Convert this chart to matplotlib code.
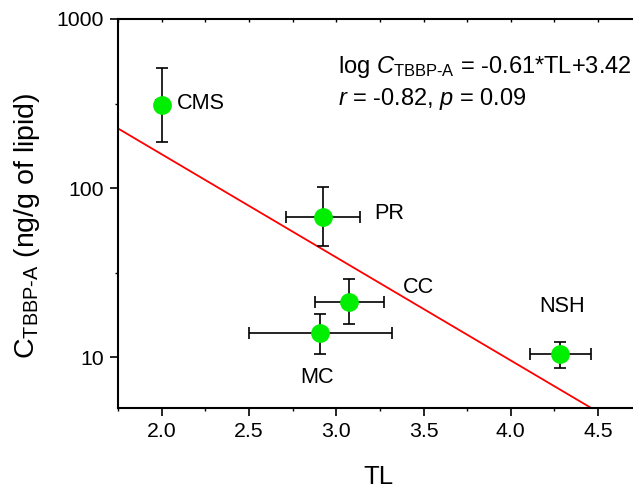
import matplotlib
matplotlib.use("Agg")
import matplotlib.pyplot as plt
import matplotlib.ticker as ticker
import numpy as np

plt.rcParams["font.family"] = ["Liberation Sans", "DejaVu Sans"]
plt.rcParams["mathtext.fontset"] = "custom"
plt.rcParams["mathtext.rm"] = "Liberation Sans"
plt.rcParams["mathtext.it"] = "Liberation Sans:italic"

# data
sites = ["CMS", "PR", "CC", "MC", "NSH"]
tl = [2.00, 2.925, 3.076, 2.908, 4.284]
tl_err = [0.03, 0.21, 0.20, 0.41, 0.175]
conc = [312, 67.3, 21.2, 13.8, 10.4]
conc_lo = [186, 45.7, 15.6, 10.5, 8.65]
conc_hi = [510, 101, 28.8, 17.9, 12.3]

slope = -0.61
intercept = 3.42

# label anchor (TL, conc, alignment)
label_pos = {
    "CMS": (2.09, 318, "left"),
    "PR": (3.22, 70.5, "left"),
    "CC": (3.383, 25.8, "left"),
    "MC": (2.888, 7.6, "center"),
    "NSH": (4.293, 20.0, "center"),
}

fig = plt.figure(figsize=(6.33, 4.88), dpi=100)
ax = fig.add_axes([118 / 633, 80 / 488, 1 - 118 / 633, 389 / 488])

x_line = np.array([1.75, 4.7])
ax.plot(x_line, 10 ** (slope * x_line + intercept), color="red", lw=1.3, zorder=1)

tl = np.array(tl)
conc = np.array(conc)
yerr = np.array([conc - np.array(conc_lo), np.array(conc_hi) - conc])
ax.errorbar(tl, conc, xerr=tl_err, yerr=yerr, fmt="none", ecolor="black",
            elinewidth=1.2, capsize=4, capthick=1.2, zorder=2)
ax.plot(tl, conc, "o", color="#00ee00", markersize=13.5, markeredgewidth=0, zorder=3)

for s in sites:
    x, y, ha = label_pos[s]
    ax.text(x, y, s, fontsize=15.6, ha=ha, va="center")

ax.text(3.01, 477, r"log $\it{C}_{\mathrm{TBBP\text{-}A}}$ = -0.61*TL+3.42",
        fontsize=17, ha="left", va="baseline")
ax.text(3.01, 310, r"$\it{r}$ = -0.82, $\it{p}$ = 0.09",
        fontsize=17, ha="left", va="baseline")

ax.set_yscale("log")
ax.set_xlim(1.75, 4.7)
ax.set_ylim(5, 1000)
ax.set_xticks([2.0, 2.5, 3.0, 3.5, 4.0, 4.5])
ax.xaxis.set_major_formatter(ticker.FormatStrFormatter("%.1f"))
ax.xaxis.set_minor_locator(ticker.MultipleLocator(0.25))
ax.set_yticks([10, 100, 1000])
ax.yaxis.set_major_formatter(ticker.FuncFormatter(lambda v, p: f"{v:.0f}"))
ax.yaxis.set_minor_locator(ticker.FixedLocator([10 ** 1.5, 10 ** 2.5]))
ax.yaxis.set_minor_formatter(ticker.NullFormatter())

ax.tick_params(axis="both", which="major", labelsize=15.3, width=1.2, length=6,
               direction="out", pad=4)
ax.tick_params(axis="both", which="minor", width=1.0, length=2.5, direction="out")

ax.spines["right"].set_visible(False)
for side in ["left", "bottom", "top"]:
    ax.spines[side].set_linewidth(1.5)

# short inward ticks along the top frame
top = ax.twiny()
top.set_xlim(ax.get_xlim())
top.set_xticks([2.0, 2.5, 3.0, 3.5, 4.0, 4.5])
top.xaxis.set_minor_locator(ticker.MultipleLocator(0.25))
top.tick_params(axis="x", which="both", direction="in", labeltop=False, length=2.5, width=1.0)
for s in top.spines.values():
    s.set_visible(False)

ax.set_xlabel("TL", fontsize=18.5)
ax.xaxis.set_label_coords(0.505, -0.147)
ax.set_ylabel(r"C$_{\mathrm{TBBP\text{-}A}}$ (ng/g of lipid)", fontsize=20.5)
ax.yaxis.set_label_coords(-0.148, 0.468)

fig.savefig("out.png", dpi=100)
